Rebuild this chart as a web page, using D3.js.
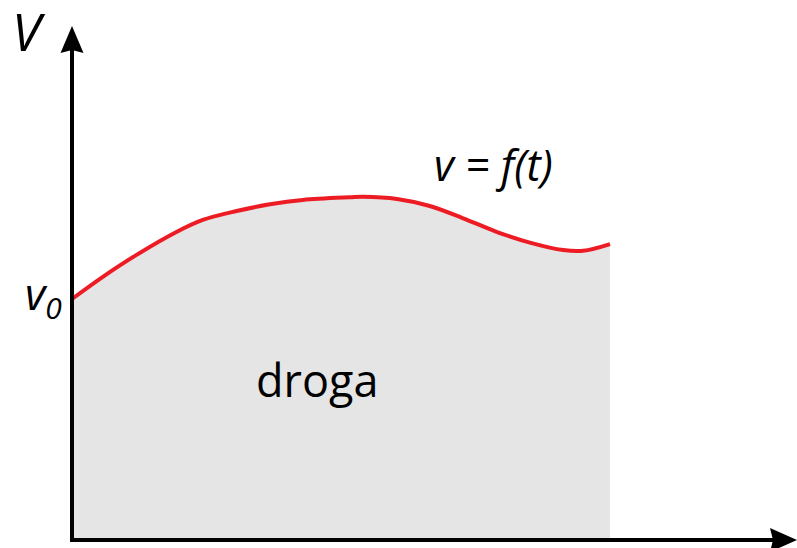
<!DOCTYPE html>
<html>
<head>
<meta charset="utf-8">
<script src="https://cdn.jsdelivr.net/npm/d3@7"></script>
<style>
    html, body { margin: 0; padding: 0; background: #fff; }
    svg { display: block; font-family: 'Open Sans', sans-serif; }
</style>
</head>
<body>
<div id="chart"></div>
<script>
// czas (t) i predkosc (v), v0 = 1
const tValues = [0, 0.58, 1.2, 1.95, 2.43, 3.06, 3.68, 4.29, 5.17, 5.41, 6.04, 6.65, 7.27, 7.89, 8.51, 9.13, 9.5, 10];
const vValues = [1, 1.093, 1.183, 1.279, 1.328, 1.365, 1.393, 1.411, 1.422, 1.424, 1.415, 1.386, 1.335, 1.279, 1.234, 1.203, 1.2, 1.228];
const labels = { yAxis: 'V', start: 'v', startSub: '0', curve: 'v = f(t)', area: 'droga' };

const width = 797, height = 548;
const origin = { x: 72, y: 540 };

const svg = d3.select('#chart').append('svg')
    .attr('width', width)
    .attr('height', height);

// Skale
const xScale = d3.scaleLinear().domain([0, 10]).range([origin.x, 610]);
const yScale = d3.scaleLinear().domain([0, 1]).range([origin.y, 299]);

const data = tValues.map((t, i) => ({ t, v: vValues[i] }));

// Pole pod wykresem
const area = d3.area()
    .x(d => xScale(d.t))
    .y0(yScale(0))
    .y1(d => yScale(d.v))
    .curve(d3.curveCatmullRom.alpha(0.5));

svg.append('path')
    .datum(data)
    .attr('fill', '#e5e5e5')
    .attr('d', area);

// Krzywa
const line = d3.line()
    .x(d => xScale(d.t))
    .y(d => yScale(d.v))
    .curve(d3.curveCatmullRom.alpha(0.5));

svg.append('path')
    .datum(data)
    .attr('fill', 'none')
    .attr('stroke', '#ed1c24')
    .attr('stroke-width', 4)
    .attr('d', line);

// Osie
const xEnd = width, yEnd = 26;
svg.append('line')
    .attr('x1', origin.x).attr('y1', origin.y + 2)
    .attr('x2', origin.x).attr('y2', yEnd + 20)
    .attr('stroke', '#000').attr('stroke-width', 4);
svg.append('line')
    .attr('x1', origin.x - 2).attr('y1', origin.y)
    .attr('x2', xEnd - 20).attr('y2', origin.y)
    .attr('stroke', '#000').attr('stroke-width', 4);

svg.append('path')
    .attr('d', `M${origin.x},${yEnd} L${origin.x + 11.5},${yEnd + 27} L${origin.x},${yEnd + 24} L${origin.x - 11.5},${yEnd + 27} Z`)
    .attr('fill', '#000');
svg.append('path')
    .attr('d', `M${xEnd},${origin.y} L${xEnd - 27},${origin.y - 12} L${xEnd - 24},${origin.y} L${xEnd - 27},${origin.y + 12} Z`)
    .attr('fill', '#000');

// Etykiety
svg.append('text')
    .attr('x', 12).attr('y', 51)
    .style('font-size', '52px')
    .style('font-style', 'italic')
    .style('fill', '#000')
    .text(labels.yAxis);

const v0 = svg.append('text')
    .attr('x', 25).attr('y', 310)
    .style('font-size', '44px')
    .style('font-style', 'italic')
    .style('fill', '#000');
v0.append('tspan').text(labels.start);
v0.append('tspan')
    .attr('dy', 9)
    .style('font-size', '30px')
    .text(labels.startSub);

svg.append('text')
    .attr('x', 434).attr('y', 181)
    .style('font-size', '43px')
    .style('font-style', 'italic')
    .style('fill', '#000')
    .text(labels.curve);

svg.append('text')
    .attr('x', 256).attr('y', 397)
    .style('font-size', '45px')
    .style('fill', '#000')
    .text(labels.area);
</script>
</body>
</html>
